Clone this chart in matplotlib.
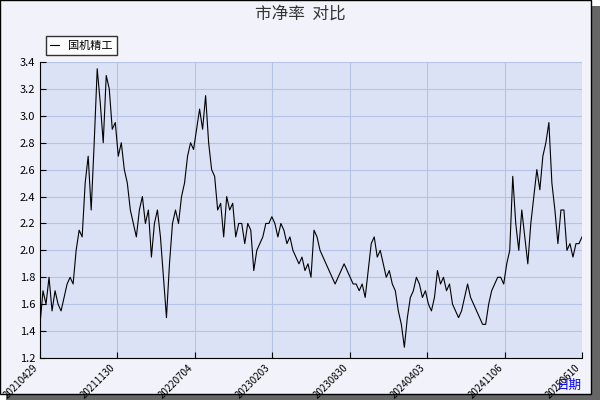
import matplotlib
matplotlib.use("Agg")
import matplotlib.pyplot as plt
from matplotlib.patches import Rectangle

plt.rcParams['font.family'] = ['Noto Sans CJK SC', 'DejaVu Sans']

# 国机精工 市净率
pb_values = [1.45, 1.7, 1.6, 1.8, 1.55, 1.7, 1.6, 1.55, 1.65, 1.75, 1.8, 1.75, 2.0, 2.15, 2.1, 2.5,
             2.7, 2.3, 2.8, 3.35, 3.1, 2.8, 3.3, 3.2, 2.9, 2.95, 2.7, 2.8, 2.6, 2.5, 2.3, 2.2,
             2.1, 2.3, 2.4, 2.2, 2.3, 1.95, 2.2, 2.3, 2.1, 1.8, 1.5, 1.9, 2.2, 2.3, 2.2, 2.4,
             2.5, 2.7, 2.8, 2.75, 2.9, 3.05, 2.9, 3.15, 2.8, 2.6, 2.55, 2.3, 2.35, 2.1, 2.4, 2.3,
             2.35, 2.1, 2.2, 2.2, 2.05, 2.2, 2.15, 1.85, 2.0, 2.05, 2.1, 2.2, 2.2, 2.25, 2.2, 2.1,
             2.2, 2.15, 2.05, 2.1, 2.0, 1.95, 1.9, 1.95, 1.85, 1.9, 1.8, 2.15, 2.1, 2.0, 1.95, 1.9,
             1.85, 1.8, 1.75, 1.8, 1.85, 1.9, 1.85, 1.8, 1.75, 1.75, 1.7, 1.75, 1.65, 1.85, 2.05, 2.1,
             1.95, 2.0, 1.9, 1.8, 1.85, 1.75, 1.7, 1.55, 1.45, 1.28, 1.5, 1.65, 1.7, 1.8, 1.75, 1.65,
             1.7, 1.6, 1.55, 1.65, 1.85, 1.75, 1.8, 1.7, 1.75, 1.6, 1.55, 1.5, 1.55, 1.65, 1.75, 1.65,
             1.6, 1.55, 1.5, 1.45, 1.45, 1.6, 1.7, 1.75, 1.8, 1.8, 1.75, 1.9, 2.0, 2.55, 2.2, 2.0,
             2.3, 2.1, 1.9, 2.2, 2.4, 2.6, 2.45, 2.7, 2.8, 2.95, 2.5, 2.3, 2.05, 2.3, 2.3, 2.0,
             2.05, 1.95, 2.05, 2.05, 2.1]
tick_labels = ["20210429", "20211130", "20220704", "20230203", "20230830",
               "20240403", "20241106", "20250610"]

fig = plt.figure(figsize=(6, 4), dpi=100)
fig.patch.set_facecolor("white")
# shadowed frame
fig.patches.append(Rectangle((0.01, 0.0), 0.99, 0.985, transform=fig.transFigure,
                             facecolor="#666666", edgecolor="none", zorder=-2))
fig.patches.append(Rectangle((0.0, 0.015), 0.985, 0.985, transform=fig.transFigure,
                             facecolor="#f2f2fa", edgecolor="black", lw=1, zorder=-1))

ax = fig.add_axes([40/600, 42/400, 542/600, 296/400])
ax.set_facecolor("#dce2f5")
x = list(range(len(pb_values)))
ax.plot(x, pb_values, color="black", lw=0.8, label="国机精工")
n = len(pb_values) - 1
ax.set_xlim(0, n)
ax.set_ylim(1.2, 3.4)
ax.set_yticks([1.2 + 0.2 * i for i in range(12)])
ax.set_yticklabels([f"{1.2 + 0.2 * i:.1f}" for i in range(12)], fontsize=8)
ax.set_xticks([n * i / 7 for i in range(8)])
ax.set_xticklabels(tick_labels, rotation=45, ha="right", fontsize=7)
ax.grid(True, color="#b4c3e6", lw=0.8)
for s in ["top", "right"]:
    ax.spines[s].set_visible(False)
ax.tick_params(direction="in", length=4)
ax.text(1.0, -0.07, "日期", transform=ax.transAxes, color="blue", fontsize=9,
        ha="right", va="top")
fig.text(0.5, 0.965, "市净率  对比", ha="center", va="center", fontsize=12, color="#333333")
leg = ax.legend(loc="lower left", bbox_to_anchor=(0.0, 1.005), fontsize=8,
                frameon=True, fancybox=False, edgecolor="black", handlelength=0.8)
fig.savefig("out.png", dpi=100)
